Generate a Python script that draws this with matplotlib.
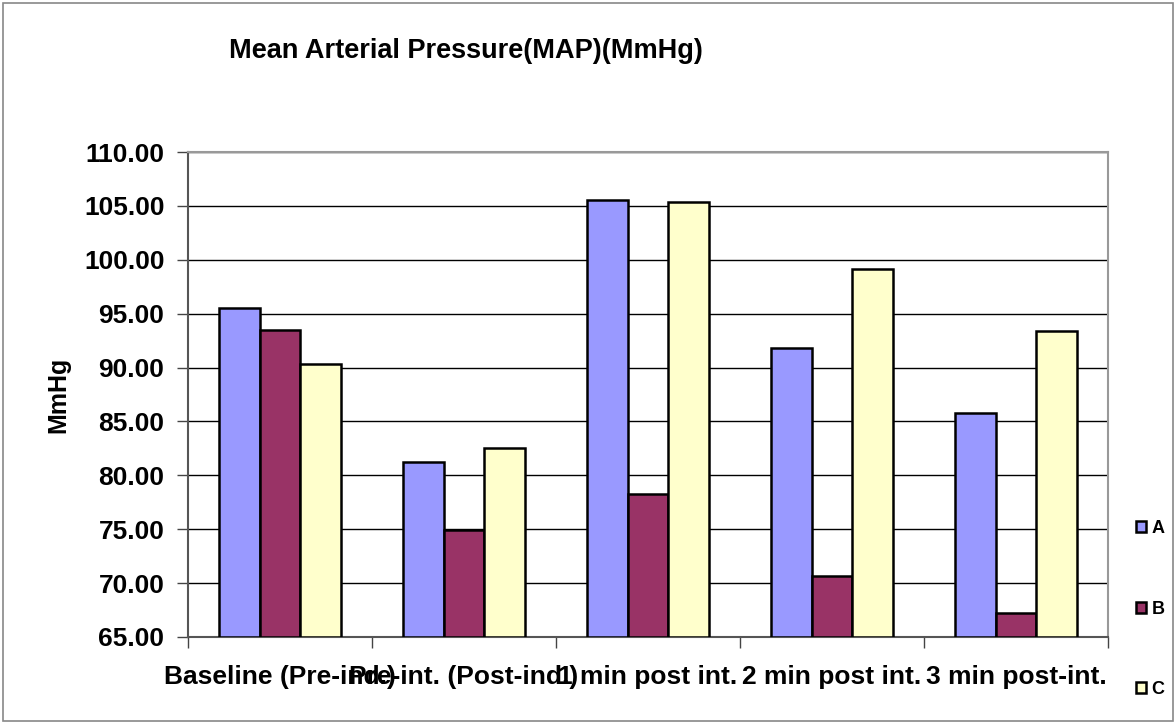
import numpy as np
import matplotlib
matplotlib.use("Agg")
import matplotlib.pyplot as plt
from matplotlib.patches import Rectangle

plt.rcParams['font.family'] = ['Liberation Sans', 'DejaVu Sans']
plt.rcParams['font.weight'] = 'bold'

categories = ["Baseline (Pre-ind.)", "Pre-int. (Post-ind.)", "1 min post int.",
              "2 min post int.", "3 min post-int."]
series_names = ["A", "B", "C"]
group_a = [95.5, 81.2, 105.5, 91.8, 85.8]
group_b = [93.5, 74.9, 78.3, 70.7, 67.2]
group_c = [90.3, 82.5, 105.4, 99.1, 93.4]
y_ticks = [65, 70, 75, 80, 85, 90, 95, 100, 105, 110]
colors = ["#9999FF", "#993366", "#FFFFCC"]

fig = plt.figure(figsize=(11.76, 7.24), dpi=100)
ax = fig.add_axes([188/1176, 1 - 637/724, 920/1176, 485/724])

x = np.arange(len(categories))
w = 1 / 4.5
for i, (vals, col, name) in enumerate(zip([group_a, group_b, group_c], colors, series_names)):
    ax.bar(x + (i - 1) * w, np.array(vals) - 65, bottom=65, width=w, color=col,
           edgecolor="black", linewidth=1.8, label=name, zorder=3)

ax.set_xlim(-0.5, len(categories) - 0.5)
ax.set_ylim(65, 110)
ax.set_yticks(y_ticks)
ax.set_yticklabels([f"{v:.2f}" for v in y_ticks], fontsize=19, fontweight="bold")
ax.yaxis.grid(True, color="black", linewidth=1, zorder=0)
ax.tick_params(axis="y", direction="out", length=8, width=1, color="#444444", pad=9)

ax.set_xticks(x)
ax.set_xticklabels(categories, fontsize=19, fontweight="bold")
ax.tick_params(axis="x", which="major", length=0, pad=20)
ax.set_xticks(np.arange(len(categories) + 1) - 0.5, minor=True)
ax.tick_params(axis="x", which="minor", direction="out", length=8, width=1, color="#444444")

for side in ["left", "bottom"]:
    ax.spines[side].set_color("#555555")
    ax.spines[side].set_linewidth(1.5)
for side in ["right", "top"]:
    ax.spines[side].set_color("#999999")
    ax.spines[side].set_linewidth(1.5)

ax.set_ylabel("MmHg", fontsize=18, fontweight="bold", labelpad=10)
fig.text(466/1176, 1 - 51/724, "Mean Arterial Pressure(MAP)(MmHg)", ha="center", va="center",
         fontsize=19.5, fontweight="heavy")

fig.legend(loc="center left", bbox_to_anchor=(1129/1176, 1 - 609/724), frameon=False,
           prop={"size": 13, "weight": "bold"}, handlelength=0.55, handleheight=0.55,
           handletextpad=0.3, labelspacing=3.5, borderaxespad=0)

fig.patches.append(Rectangle((3/1176, 3/724), 1 - 6/1176, 1 - 6/724, transform=fig.transFigure,
                             fill=False, edgecolor="#888888", linewidth=1.2))

fig.savefig("out.png", dpi=100)
